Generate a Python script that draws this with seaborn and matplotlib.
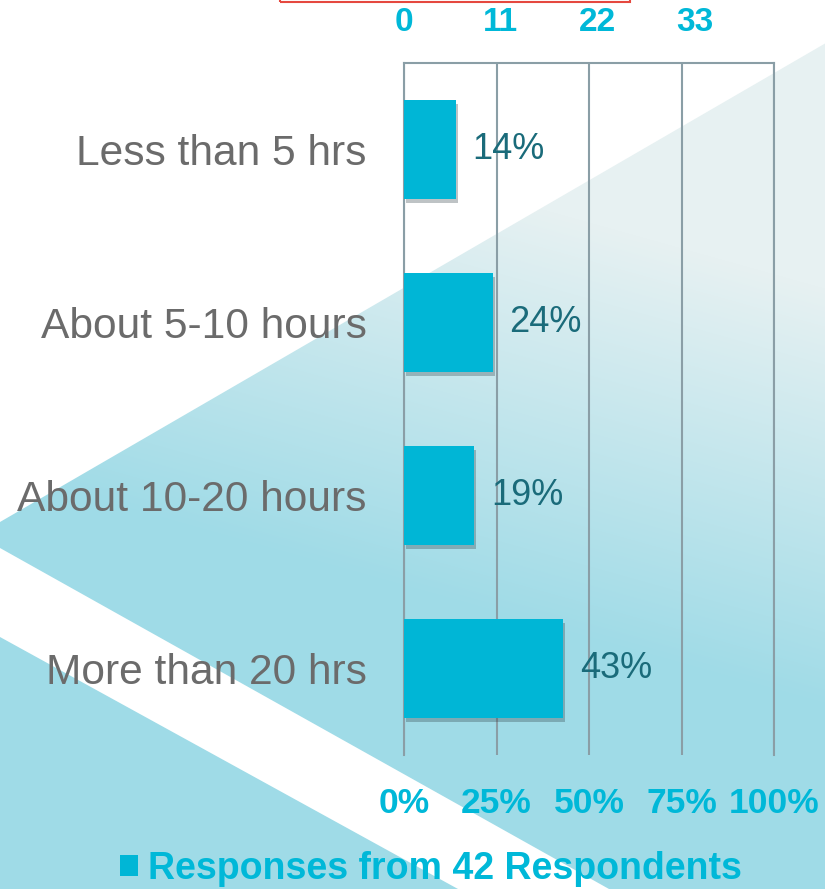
import numpy as np
import pandas as pd
import matplotlib
matplotlib.use("Agg")
import matplotlib.pyplot as plt
import matplotlib.patheffects as pe
from matplotlib.patches import Polygon, Rectangle
from matplotlib.colors import to_rgb
import seaborn as sns

# data
categories = ["Less than 5 hrs", "About 5-10 hours", "About 10-20 hours", "More than 20 hrs"]
percent = [14, 24, 19, 43]
n_respondents = 42
pct_ticks = [0, 25, 50, 75, 100]
count_ticks = [0, 11, 22, 33]
legend_label = "Responses from 42 Respondents"

bar_color = "#00b6d6"
tick_color = "#00b8d8"
value_color = "#1a6b7a"
cat_color = "#6b6b6b"
grid_color = "#8a9ea6"

sns.set_style("white")
plt.rcParams["font.family"] = ["Liberation Sans", "DejaVu Sans"]

W, H = 825, 889
fig = plt.figure(figsize=(W / 100, H / 100), dpi=100)

# decorative background (pixel space)
bg = fig.add_axes([0, 0, 1, 1], zorder=-1)
bg.axis("off")
yy, xx = np.mgrid[0:H, 0:W]
t = np.clip(((H - yy) - 300) / 420 + (xx - 400) / 1500, 0, 1)
c0 = np.array(to_rgb("#9fdbe7"))
c1 = np.array(to_rgb("#e7f1f2"))
img = c0 + (c1 - c0) * t[..., None]
shapes = [
    [(0, 522), (W, 522 - 0.58 * W), (W, H), (609, H), (0, 548)],
    [(0, 637), (458, H), (0, H)],
]
for poly in shapes:
    patch = Polygon(poly, closed=True, fc="none", ec="none")
    bg.add_patch(patch)
    im = bg.imshow(img, extent=(0, W, H, 0), aspect="auto", zorder=0)
    im.set_clip_path(patch)
bg.set_xlim(0, W)
bg.set_ylim(H, 0)

# red box cut off at the top
fig.add_artist(Rectangle((280 / W, 1 - 2 / H), 350 / W, 0.05, transform=fig.transFigure,
                         fill=False, ec="#e5483f", lw=1.5, clip_on=False))

ax = fig.add_axes([404 / W, (H - 755) / H, 370 / W, 692 / H])
ax.set_facecolor("none")
df = pd.DataFrame({"category": categories, "percent": percent})
sns.barplot(data=df, x="percent", y="category", color=bar_color, saturation=1,
            width=0.57, ax=ax, label=legend_label, zorder=3, linewidth=0)
if ax.get_legend() is not None:
    ax.get_legend().remove()

ax.set_xlim(0, 100)
ax.set_ylim(3.5, -0.5)
ax.set_xticks(pct_ticks)
ax.set_xticklabels([f"{v}%" for v in pct_ticks])
ax.xaxis.grid(True, color=grid_color, lw=1.5)
ax.set_axisbelow(True)
for side in ["left", "right", "top"]:
    ax.spines[side].set_visible(True)
    ax.spines[side].set_color(grid_color)
    ax.spines[side].set_linewidth(1.5)
ax.spines["bottom"].set_visible(False)
ax.set_xlabel("")
ax.set_ylabel("")
ax.tick_params(axis="x", length=0, pad=23, labelsize=25.5, labelcolor=tick_color)
ax.tick_params(axis="y", length=0, pad=27, labelsize=30.6, labelcolor=cat_color)
for lbl in ax.get_xticklabels():
    lbl.set_fontweight("bold")

# count scale on top (42 respondents = 100%)
sec = ax.secondary_xaxis("top", functions=(lambda p: p * n_respondents / 100,
                                           lambda c: c * 100 / n_respondents))
sec.set_xticks(count_ticks)
sec.tick_params(length=0, pad=18, labelsize=24, labelcolor=tick_color)
sec.spines["top"].set_visible(False)
for lbl in sec.get_xticklabels():
    lbl.set_fontweight("bold")

handles = [ax.patches[0]]
ax.bar_label(ax.containers[0], labels=[f"{v}%" for v in percent], padding=12,
             fontsize=26, color=value_color)
for bar in ax.patches:
    bar.set_path_effects([pe.SimplePatchShadow(offset=(1.5, -3), shadow_rgbFace="#2a3a40", alpha=0.3),
                          pe.Normal()])

leg = fig.legend(handles, [legend_label], loc="center", bbox_to_anchor=(0.522, 1 - 869 / H),
                 frameon=False, prop={"size": 27, "weight": "bold"}, labelcolor=tick_color,
                 handlelength=0.5, handleheight=0.5, handletextpad=0.25)
for h in leg.legend_handles:
    h.set_path_effects([])

fig.savefig("out.png", dpi=100)
